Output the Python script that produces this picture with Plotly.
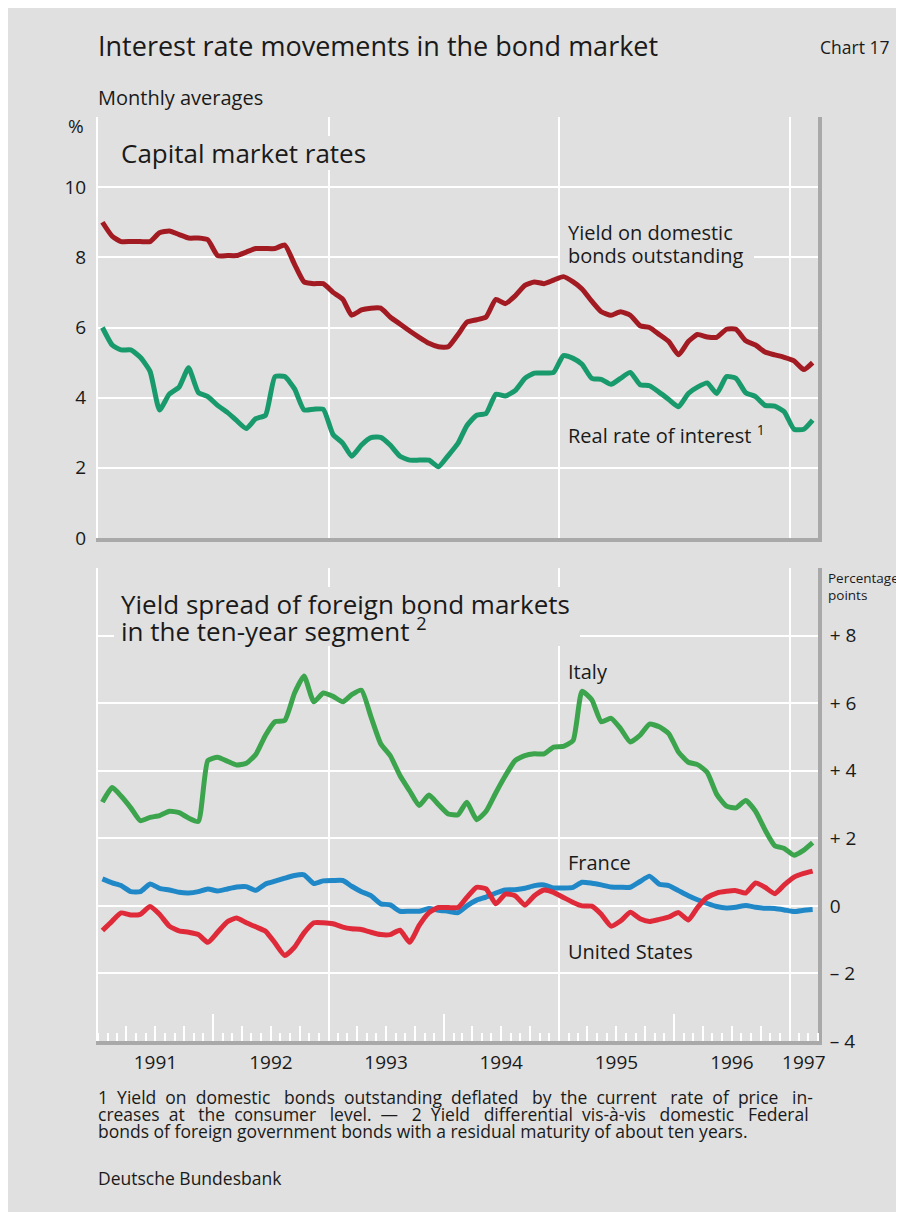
import plotly.graph_objects as go
import pandas as pd

# ---------------- data (monthly averages, Jan 1991 - Mar 1997) ----------------
months = pd.date_range("1991-01-01", "1997-03-01", freq="MS") + pd.Timedelta(days=14)

yield_domestic = [9.0, 8.6, 8.45, 8.45, 8.45, 8.45, 8.7, 8.75, 8.65, 8.55, 8.55, 8.5,
                  8.05, 8.05, 8.05, 8.15, 8.25, 8.25, 8.25, 8.35, 7.8, 7.3, 7.25, 7.25,
                  7.0, 6.8, 6.35, 6.5, 6.55, 6.55, 6.3, 6.1, 5.9, 5.72, 5.55, 5.45,
                  5.45, 5.8, 6.15, 6.22, 6.3, 6.8, 6.68, 6.9, 7.2, 7.3, 7.25, 7.35,
                  7.45, 7.3, 7.1, 6.75, 6.45, 6.35, 6.45, 6.35, 6.05, 6.0, 5.8, 5.6,
                  5.22, 5.6, 5.8, 5.73, 5.72, 5.95, 5.95, 5.62, 5.5, 5.3, 5.22, 5.15,
                  5.05, 4.8, 5.0]

real_rate = [6.0, 5.5, 5.36, 5.36, 5.15, 4.75, 3.65, 4.1, 4.3, 4.85, 4.15, 4.03,
             3.78, 3.58, 3.35, 3.12, 3.4, 3.5, 4.6, 4.6, 4.25, 3.65, 3.67, 3.67,
             2.95, 2.7, 2.33, 2.65, 2.86, 2.87, 2.65, 2.33, 2.22, 2.22, 2.22, 2.03,
             2.35, 2.7, 3.2, 3.5, 3.55, 4.1, 4.05, 4.2, 4.55, 4.7, 4.7, 4.72,
             5.2, 5.12, 4.95, 4.55, 4.52, 4.38, 4.55, 4.72, 4.37, 4.34, 4.15, 3.95,
             3.74, 4.12, 4.3, 4.42, 4.12, 4.6, 4.55, 4.14, 4.03, 3.78, 3.76, 3.6,
             3.1, 3.1, 3.36]

italy = [3.07, 3.5, 3.25, 2.9, 2.52, 2.62, 2.67, 2.8, 2.76, 2.6, 2.5, 4.3,
         4.4, 4.28, 4.17, 4.22, 4.48, 5.05, 5.45, 5.49, 6.3, 6.8, 6.04, 6.3,
         6.2, 6.04, 6.25, 6.38, 5.6, 4.8, 4.45, 3.86, 3.4, 2.97, 3.28, 3.0,
         2.72, 2.7, 3.07, 2.55, 2.8, 3.35, 3.85, 4.3, 4.45, 4.5, 4.5, 4.7,
         4.72, 4.9, 6.35, 6.1, 5.45, 5.55, 5.25, 4.85, 5.05, 5.38, 5.3, 5.1,
         4.55, 4.25, 4.18, 3.95, 3.3, 2.95, 2.9, 3.12, 2.8, 2.25, 1.78, 1.7,
         1.5, 1.65, 1.87]

france = [0.8, 0.68, 0.6, 0.42, 0.42, 0.65, 0.52, 0.47, 0.4, 0.38, 0.42, 0.5,
          0.44, 0.5, 0.56, 0.57, 0.46, 0.65, 0.73, 0.82, 0.9, 0.92, 0.66, 0.74,
          0.75, 0.75, 0.58, 0.42, 0.3, 0.06, 0.03, -0.16, -0.16, -0.16, -0.08, -0.13,
          -0.16, -0.2, 0.0, 0.17, 0.26, 0.38, 0.47, 0.48, 0.52, 0.6, 0.62, 0.53,
          0.53, 0.55, 0.7, 0.67, 0.62, 0.56, 0.55, 0.55, 0.72, 0.88, 0.64, 0.6,
          0.45, 0.3, 0.18, 0.07, -0.02, -0.06, -0.04, 0.01, -0.04, -0.07, -0.08, -0.12,
          -0.17, -0.13, -0.11]

united_states = [-0.73, -0.45, -0.21, -0.27, -0.25, -0.02, -0.25, -0.6, -0.74, -0.78, -0.85, -1.08,
                 -0.78, -0.47, -0.36, -0.5, -0.62, -0.75, -1.1, -1.47, -1.22, -0.8, -0.5, -0.5,
                 -0.53, -0.63, -0.68, -0.7, -0.78, -0.85, -0.85, -0.72, -1.08, -0.58, -0.2, -0.05,
                 -0.05, -0.05, 0.25, 0.55, 0.5, 0.06, 0.35, 0.3, 0.02, 0.3, 0.47, 0.4,
                 0.25, 0.1, 0.0, -0.01, -0.25, -0.6, -0.45, -0.19, -0.38, -0.46, -0.4, -0.33,
                 -0.2, -0.42, -0.05, 0.25, 0.38, 0.43, 0.45, 0.38, 0.68, 0.55, 0.36, 0.62,
                 0.85, 0.96, 1.03]

year_labels = ["1991", "1992", "1993", "1994", "1995", "1996", "1997"]
year_label_pos = ["1991-07-02", "1992-07-02", "1993-07-02", "1994-07-02",
                  "1995-07-02", "1996-07-02", "1997-02-15"]
year_starts = ["1992-01-01", "1993-01-01", "1994-01-01", "1995-01-01", "1996-01-01", "1997-01-01"]
grid_years = ["1993-01-01", "1995-01-01", "1997-01-01"]
quarter_starts = [f"{y}-{m:02d}-01" for y in range(1991, 1997) for m in (4, 7, 10)]

top_ticks = [0, 2, 4, 6, 8, 10, 12]
top_ticktext = ["0", "2", "4", "6", "8", "10", ""]
bot_ticks = [-4, -2, 0, 2, 4, 6, 8, 10]
bot_ticktext = ["\u2013 4", "\u2013 2", "0", "+ 2", "+ 4", "+ 6", "+ 8", ""]

footnote_lines = [
    "1 Yield on domestic bonds outstanding deflated by the current rate of price in-",
    "creases at the consumer level. \u2014 2 Yield differential vis-\u00e0-vis domestic Federal",
    "bonds of foreign government bonds with a residual maturity of about ten years.",
]
source_text = "Deutsche Bundesbank"

# ---------------- style ----------------
OFF = 8                     # page body margin of the html page
W, H = 904 - OFF, 1212 - OFF
L, R, T, B = 98 - OFF, 86, 117 - OFF, 171
BG = "#e0e0e0"
GRID = "#ffffff"
AXIS = "#a9a9a9"
TXT = "#1a1a1a"
FONT = "Open Sans"
X_RANGE = ["1991-01-01", "1997-04-01"]

def px(x):
    # page pixel -> paper coordinate
    return (x - OFF - L) / (W - L - R)

def py(y):
    return (H - B - (y - OFF)) / (H - T - B)

top_dom = [py(538), 1.0]
bot_dom = [0.0, py(568)]

fig = go.Figure()

line_w = 5
def add_line(yvals, color, xa, ya):
    fig.add_trace(go.Scatter(x=months, y=yvals, mode="lines",
                             line=dict(color=color, width=line_w, shape="spline", smoothing=0.5),
                             xaxis=xa, yaxis=ya, showlegend=False, hoverinfo="skip"))

add_line(yield_domestic, "#a31b22", "x", "y")
add_line(real_rate, "#189a6c", "x", "y")
add_line(italy, "#3ba44c", "x2", "y2")
add_line(france, "#2188c8", "x2", "y2")
add_line(united_states, "#df2a39", "x2", "y2")

# invisible traces so overlay axes are rendered
for xa, ya in [("x", "y3"), ("x3", "y2"), ("x4", "y2"), ("x2", "y4")]:
    fig.add_trace(go.Scatter(x=[None], y=[None], xaxis=xa, yaxis=ya, mode="lines",
                             showlegend=False, hoverinfo="skip"))

tickfont = dict(family=FONT, size=19, color=TXT)

fig.update_layout(
    width=W, height=H,
    margin=dict(l=L, r=R, t=T, b=B),
    paper_bgcolor=BG, plot_bgcolor=BG,
    font=dict(family=FONT, color=TXT),
    showlegend=False,
    # top panel
    xaxis=dict(domain=[0, 1], anchor="y", range=X_RANGE, type="date",
               tickvals=grid_years, showticklabels=False, ticks="",
               showgrid=True, gridcolor=GRID, gridwidth=2, zeroline=False,
               showline=True, linecolor=AXIS, linewidth=4),
    yaxis=dict(domain=top_dom, anchor="x", range=[0, 12], tickvals=top_ticks,
               ticktext=top_ticktext, tickfont=tickfont, ticks="", ticklabelstandoff=6,
               showgrid=True, gridcolor=GRID, gridwidth=2, zeroline=False,
               showline=True, linecolor=GRID, linewidth=2),
    yaxis3=dict(overlaying="y", anchor="x", side="right", range=[0, 12],
                showgrid=False, zeroline=False, showticklabels=False, ticks="",
                showline=True, linecolor=AXIS, linewidth=4),
    # bottom panel
    xaxis2=dict(domain=[0, 1], anchor="y2", range=X_RANGE, type="date",
                tickvals=grid_years, showticklabels=False, ticks="",
                showgrid=True, gridcolor=GRID, gridwidth=2, zeroline=False,
                showline=True, linecolor=AXIS, linewidth=4,
                minor=dict(tickmode="linear", tick0="1991-01-01", dtick="M1", ticks="inside",
                           ticklen=8, tickwidth=2, tickcolor=GRID, showgrid=False)),
    xaxis3=dict(overlaying="x2", anchor="y2", range=X_RANGE, type="date",
                tickvals=year_starts, ticks="inside", ticklen=27, tickwidth=2, tickcolor=GRID,
                showticklabels=False, showgrid=False, zeroline=False, showline=False,
                minor=dict(tickmode="array", tickvals=quarter_starts, ticks="inside",
                           ticklen=15, tickwidth=2, tickcolor=GRID, showgrid=False)),
    xaxis4=dict(overlaying="x2", anchor="y2", range=X_RANGE, type="date",
                tickvals=year_label_pos, ticktext=year_labels, ticks="",
                tickfont=tickfont, ticklabelstandoff=8,
                showgrid=False, zeroline=False, showline=False),
    yaxis2=dict(domain=bot_dom, anchor="x2", side="right", range=[-4, 10],
                tickvals=bot_ticks, ticktext=bot_ticktext, tickfont=tickfont, ticks="",
                ticklabelstandoff=4,
                showgrid=True, gridcolor=GRID, gridwidth=2, zeroline=False,
                showline=True, linecolor=AXIS, linewidth=4),
    yaxis4=dict(overlaying="y2", anchor="x2", side="left", range=[-4, 10],
                showgrid=False, zeroline=False, showticklabels=False, ticks="",
                showline=True, linecolor=GRID, linewidth=2),
)

# background patches behind the panel labels (hide the grid there; no data lines pass)
def label_patch(x0, x1, y0, y1):
    fig.add_shape(type="rect", xref="paper", yref="paper",
                  x0=px(x0), x1=px(x1), y0=py(y1), y1=py(y0),
                  fillcolor=BG, line=dict(width=0), layer="above")

label_patch(114, 372, 136, 170)
label_patch(560, 754, 220, 267)
label_patch(114, 580, 587, 646)

def note(text, x, y, size, xanchor="left", yanchor="middle"):
    fig.add_annotation(text=text, xref="paper", yref="paper", x=px(x), y=py(y),
                       xanchor=xanchor, yanchor=yanchor, showarrow=False,
                       font=dict(family=FONT, size=size, color=TXT), align="left")

def justify(text, extra):
    # widen word gaps with non-breaking spaces (the source text is justified)
    words = text.split(" ")
    gaps = len(words) - 1
    out = words[0]
    for i, w in enumerate(words[1:]):
        n = extra * (i + 1) // gaps - extra * i // gaps
        out += " " + "\u00a0" * n + w
    return out

note("Interest rate movements in the bond market", 96, 46, 27)
note("Chart 17", 891, 47, 17.5, xanchor="right")
note("Monthly averages", 96, 98, 20)
note("%", 86, 126, 19, xanchor="right")
note("Capital market rates", 119, 153, 26)
note("Yield on domestic", 566, 233, 20)
note("bonds outstanding", 566, 255, 20)
note("Real rate of interest <sup>1</sup>", 566, 435, 20)
note("Yield spread of foreign bond markets", 119, 604, 26)
note("in the ten-year segment <sup>2</sup>", 119, 630, 26)
note("Italy", 566, 671, 20)
note("France", 566, 862, 20)
note("United States", 566, 951, 20)
note("Percentage", 826, 578, 13.5)
note("points", 826, 595, 13.5)

FN = 17.5
note(justify(footnote_lines[0], 17), 96, 1097, FN)
note(justify(footnote_lines[1], 17), 96, 1114, FN)
note(footnote_lines[2], 96, 1131, FN)
note(source_text, 96, 1178, FN)

fig.write_html("out.html")
